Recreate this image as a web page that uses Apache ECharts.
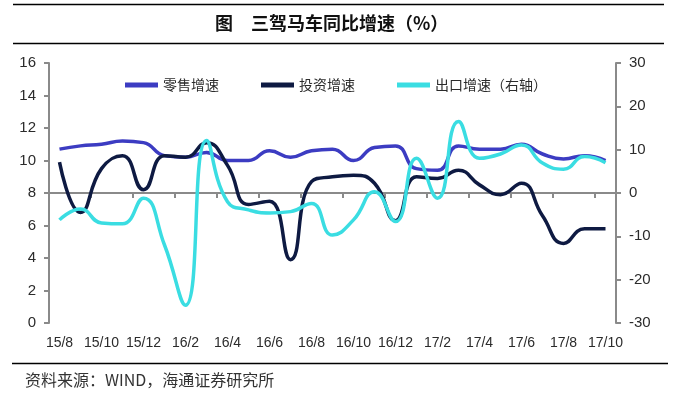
<!DOCTYPE html>
<html>
<head>
<meta charset="utf-8">
<title>三驾马车同比增速</title>
<script src="https://cdn.jsdelivr.net/npm/echarts@6/dist/echarts.min.js"></script>
<style>
    html, body { margin: 0; padding: 0; background: #fff; }
    #chart { width: 689px; height: 398px; }
</style>
</head>
<body>
<div id="chart"></div>
<script>
    // 月份（横轴）
    const months = ['15/8', '15/9', '15/10', '15/11', '15/12', '16/1', '16/2', '16/3', '16/4',
        '16/5', '16/6', '16/7', '16/8', '16/9', '16/10', '16/11', '16/12', '17/1', '17/2',
        '17/3', '17/4', '17/5', '17/6', '17/7', '17/8', '17/9', '17/10']
    // 零售增速（左轴）
    const retail = [10.7, 10.9, 11.0, 11.2, 11.1, 10.3, 10.2, 10.5, 10.0, 10.0, 10.6, 10.2, 10.6, 10.7,
        10.0, 10.8, 10.9, 9.5, 9.4, 10.9, 10.7, 10.7, 11.0, 10.4, 10.1, 10.3, 10.0]
    // 投资增速（左轴）
    const invest = [9.9, 6.8, 9.5, 10.3, 8.2, 10.3, 10.2, 11.1, 9.7, 7.3, 7.5, 3.9, 8.7, 9.0,
        9.1, 8.6, 6.3, 9.0, 8.9, 9.4, 8.5, 7.9, 8.6, 6.6, 4.9, 5.8, 5.8]
    // 出口增速（右轴）
    const exportRate = [-6.2, -3.7, -6.9, -7.1, -1.2, -12.0, -25.9, 12.1, -2.0, -3.9, -4.6, -4.3, -2.4, -9.7,
        -6.2, 0.3, -6.6, 8.0, -1.2, 16.5, 8.0, 9.0, 11.1, 6.9, 5.5, 8.4, 7.0]
    const seriesNames = ['零售增速', '投资增速', '出口增速（右轴）']

    const axisGray = '#8a8a8a'
    const textColor = '#2b2b2b'
    const numFont = '"Liberation Sans", Arial, "Noto Sans CJK SC", sans-serif'
    const cjkFont = '"Noto Sans CJK SC", "Liberation Sans", sans-serif'

    const chart = echarts.init(document.getElementById('chart'))

    const option = {
        animation: false,
        textStyle: { fontFamily: numFont },
        title: {
            text: '图　三驾马车同比增速（%）',
            left: 215,
            top: 14,
            padding: 0,
            textStyle: { fontFamily: cjkFont, fontSize: 18, fontWeight: 'bold', color: '#111' }
        },
        legend: {
            data: seriesNames,
            left: 125,
            top: 78,
            padding: 0,
            icon: 'rect',
            itemWidth: 33,
            itemHeight: 5,
            itemGap: 42,
            textStyle: { fontFamily: cjkFont, fontSize: 14, color: textColor }
        },
        grid: { left: 49, right: 73, top: 63, bottom: 75 },
        xAxis: [
            {
                // 压在右轴 0 处的横轴线，只画刻度
                type: 'category',
                data: months,
                boundaryGap: true,
                axisLine: { onZero: true, onZeroAxisIndex: 1, lineStyle: { color: axisGray, width: 2 } },
                axisTick: { show: true, interval: 1, length: 5, lineStyle: { color: axisGray, width: 2 } },
                axisLabel: { show: false },
                splitLine: { show: false }
            },
            {
                // 底部的月份标签
                type: 'category',
                data: months,
                position: 'bottom',
                boundaryGap: true,
                axisLine: { show: false, onZero: false },
                axisTick: { show: false },
                axisLabel: { interval: 1, fontSize: 14, color: textColor, margin: 13 },
                splitLine: { show: false }
            }
        ],
        yAxis: [
            {
                type: 'value',
                min: 0,
                max: 16,
                interval: 2,
                position: 'left',
                axisLine: { show: true, lineStyle: { color: axisGray, width: 2 } },
                axisTick: { show: true, length: 5, lineStyle: { color: axisGray, width: 2 } },
                axisLabel: { fontSize: 15, color: textColor, margin: 13 },
                splitLine: { show: false }
            },
            {
                type: 'value',
                min: -30,
                max: 30,
                interval: 10,
                position: 'right',
                axisLine: { show: true, lineStyle: { color: axisGray, width: 2 } },
                axisTick: { show: true, length: 5, lineStyle: { color: axisGray, width: 2 } },
                axisLabel: { fontSize: 15, color: textColor, margin: 13 },
                splitLine: { show: false }
            }
        ],
        series: [
            {
                name: seriesNames[0],
                type: 'line',
                data: retail,
                smooth: 0.5,
                showSymbol: false,
                itemStyle: { color: '#3c3cc2' },
                lineStyle: { color: '#3c3cc2', width: 3.5 }
            },
            {
                name: seriesNames[1],
                type: 'line',
                data: invest,
                smooth: 0.5,
                showSymbol: false,
                itemStyle: { color: '#0e1a42' },
                lineStyle: { color: '#0e1a42', width: 3.5 }
            },
            {
                name: seriesNames[2],
                type: 'line',
                yAxisIndex: 1,
                data: exportRate,
                smooth: 0.5,
                showSymbol: false,
                itemStyle: { color: '#3adde2' },
                lineStyle: { color: '#3adde2', width: 3.5 }
            }
        ],
        // 标题上下的横线和底部资料来源
        graphic: [
            { type: 'line', shape: { x1: 13, y1: 4.5, x2: 664, y2: 4.5 }, style: { stroke: '#000', lineWidth: 1.5 } },
            { type: 'line', shape: { x1: 13, y1: 43.5, x2: 664, y2: 43.5 }, style: { stroke: '#000', lineWidth: 1.5 } },
            { type: 'line', shape: { x1: 12, y1: 363.5, x2: 668, y2: 363.5 }, style: { stroke: '#000', lineWidth: 1.5 } },
            {
                type: 'text',
                left: 25,
                top: 372,
                style: { text: '资料来源：WIND，海通证券研究所', fill: '#333', font: '16px ' + cjkFont }
            }
        ]
    }
    chart.setOption(option)
</script>
</body>
</html>
